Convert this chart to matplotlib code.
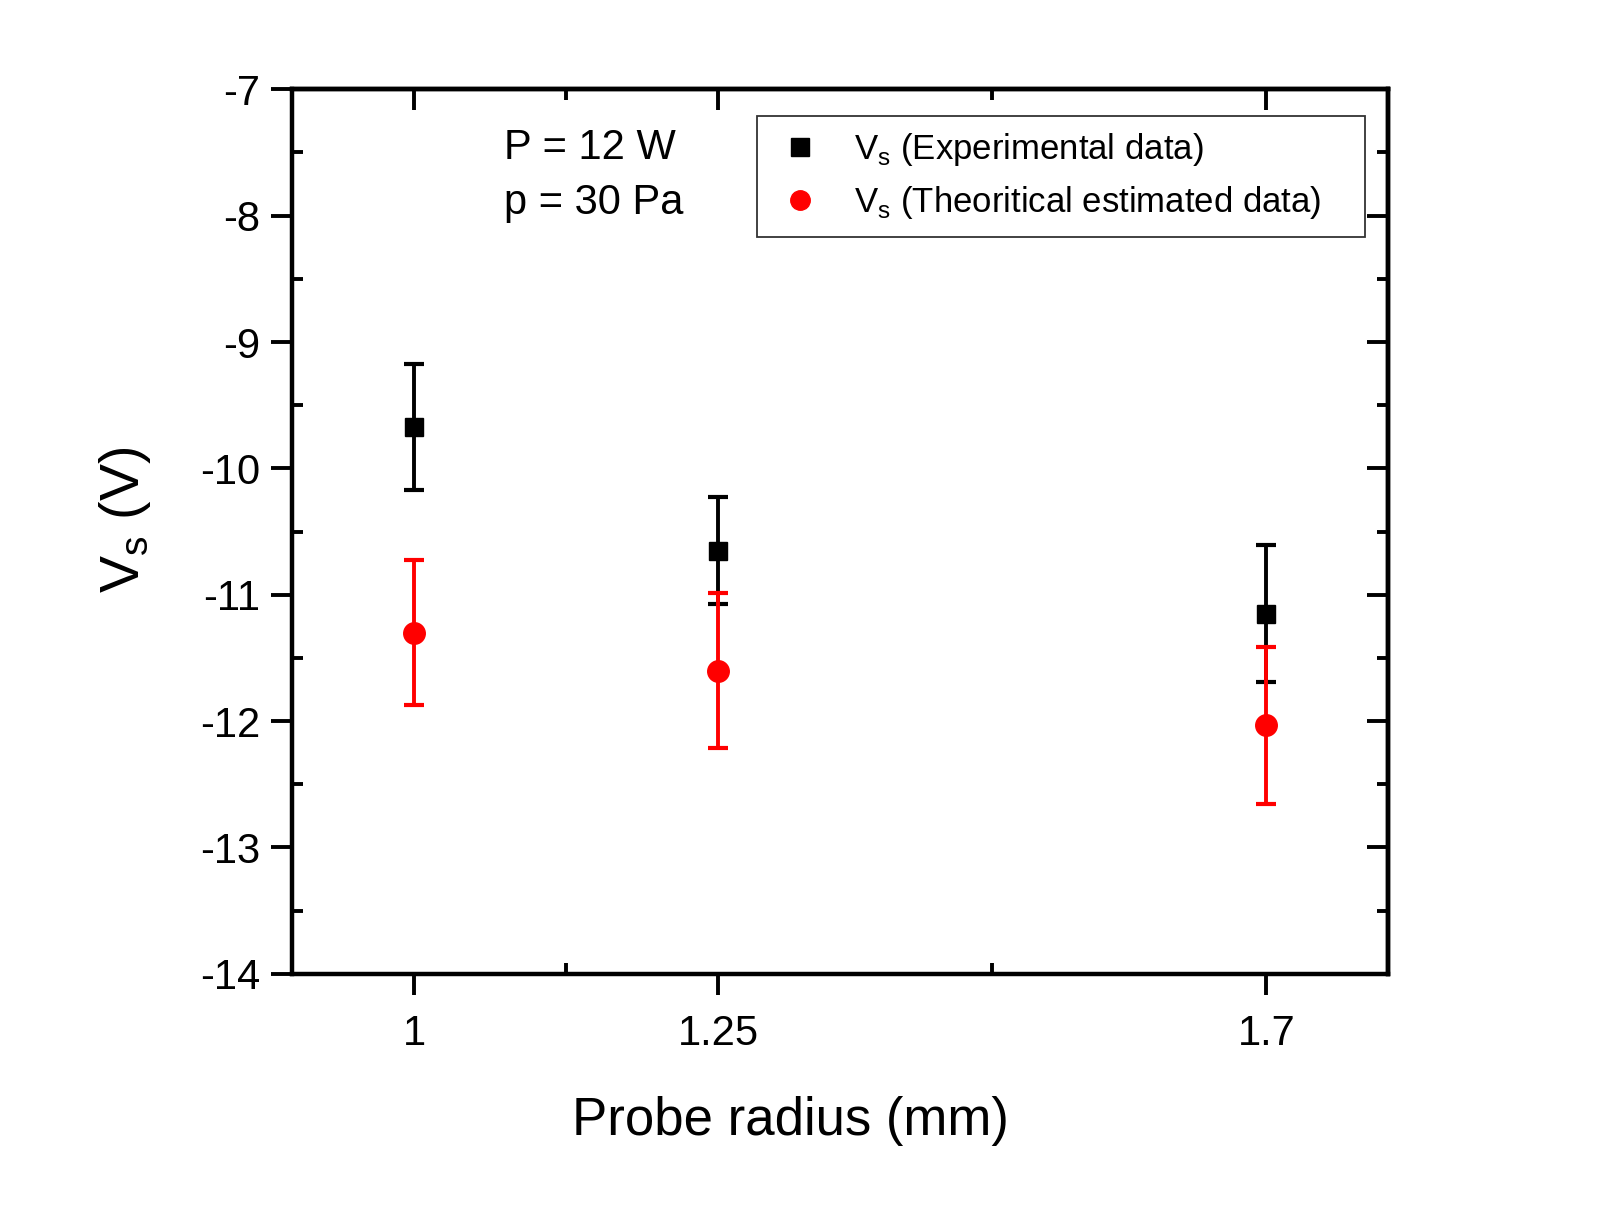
import matplotlib
matplotlib.use("Agg")
import matplotlib.pyplot as plt
from matplotlib.lines import Line2D

plt.rcParams['font.family'] = ['Liberation Sans', 'DejaVu Sans']
plt.rcParams['mathtext.fontset'] = 'custom'
plt.rcParams['mathtext.rm'] = 'Liberation Sans'

# Data
radius = [1.0, 1.25, 1.7]
vs_exp = [-9.675, -10.651, -11.15]
vs_exp_err = [0.50, 0.422, 0.542]
vs_theo = [-11.30, -11.60, -12.033]
vs_theo_err = [0.575, 0.613, 0.62]
x_major = [1.0, 1.25, 1.7]
x_major_labels = ['1', '1.25', '1.7']
x_minor = [1.125, 1.475]
y_major = [-14, -13, -12, -11, -10, -9, -8, -7]

W, H = 1609, 1232
fig = plt.figure(figsize=(W / 100, H / 100), dpi=100)
ax = fig.add_axes([292.4 / W, 1 - 973.8 / H, (1388 - 292.4) / W, (973.8 - 89.3) / H])

ax.errorbar(radius, vs_exp, yerr=vs_exp_err, fmt='s', color='black', ms=13,
            elinewidth=2.8, capsize=7, capthick=3, zorder=3)
ax.errorbar(radius, vs_theo, yerr=vs_theo_err, fmt='o', color='red', ms=15.5,
            elinewidth=2.8, capsize=7, capthick=3, zorder=4)

ax.set_xlim(0.9, 1.8)
ax.set_ylim(-14, -7)
ax.set_xticks(x_major)
ax.set_xticklabels(x_major_labels)
ax.set_xticks(x_minor, minor=True)
ax.set_yticks(y_major)
ax.set_yticklabels([str(v) for v in y_major])
ax.set_yticks([v + 0.5 for v in y_major[:-1]], minor=True)

for s in ax.spines.values():
    s.set_linewidth(3.2)

ax.tick_params(which='major', direction='out', length=15, width=2.8, labelsize=30, pad=8)
ax.tick_params(which='minor', direction='in', length=8, width=2.8)
ax.tick_params(axis='x', which='major', pad=14)

# top and right axes with inward ticks
axt = ax.secondary_xaxis('top')
axt.set_xticks(x_major)
axt.set_xticks(x_minor, minor=True)
axt.tick_params(which='major', direction='in', length=15, width=2.8, labeltop=False)
axt.tick_params(which='minor', direction='in', length=8, width=2.8)
axt.spines['top'].set_linewidth(3.2)
axr = ax.secondary_yaxis('right')
axr.set_yticks(y_major)
axr.set_yticks([v + 0.5 for v in y_major[:-1]], minor=True)
axr.tick_params(which='major', direction='in', length=15, width=2.8, labelright=False)
axr.tick_params(which='minor', direction='in', length=8, width=2.8)
axr.spines['right'].set_linewidth(3.2)

ax.set_xlabel('Probe radius (mm)', fontsize=38, labelpad=30, x=0.455)
ax.set_ylabel(r'V$_\mathregular{s}$ (V)', fontsize=40, labelpad=34, y=0.513)

ax.text(0.193, 0.934, 'P = 12 W', transform=ax.transAxes, fontsize=30, va='center', ha='left')
ax.text(0.193, 0.872, 'p = 30 Pa', transform=ax.transAxes, fontsize=30, va='center', ha='left')

handles = [
    Line2D([], [], marker='s', color='black', ls='none', ms=13),
    Line2D([], [], marker='o', color='red', ls='none', ms=14),
]
labels = [r'V$_\mathregular{s}$ (Experimental data)',
          r'V$_\mathregular{s}$ (Theoritical estimated data)']
leg = ax.legend(handles, labels, loc='upper left',
                bbox_to_anchor=(0.424, 0.87, 0.555, 0.1), mode='expand',
                fontsize=25, frameon=True, fancybox=False, edgecolor='black',
                borderpad=0.45, handletextpad=0.75, labelspacing=0.45, handlelength=1.6,
                borderaxespad=0)
leg.get_frame().set_linewidth(1.3)

fig.savefig('out.png', dpi=100, facecolor='white')
